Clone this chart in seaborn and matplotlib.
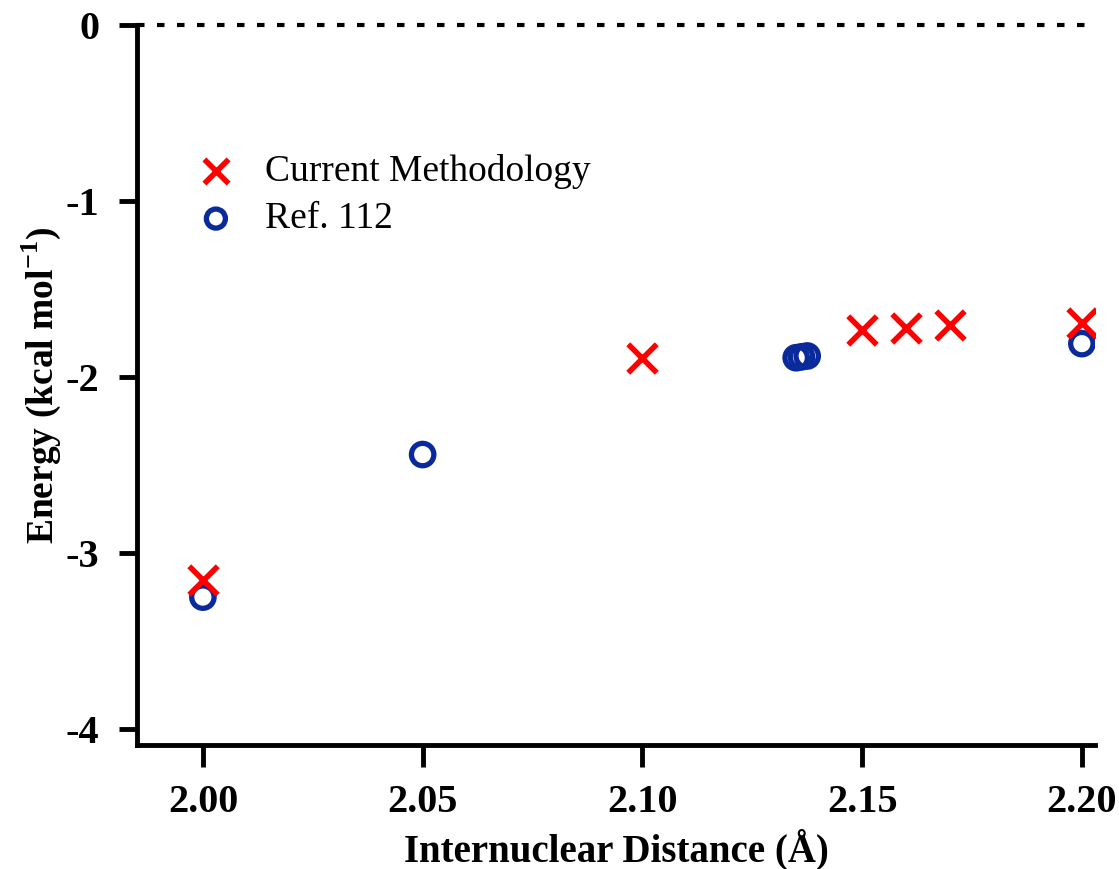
import matplotlib
matplotlib.use("Agg")
import matplotlib.pyplot as plt
import seaborn as sns
import pandas as pd

current_x = [2.00, 2.10, 2.15, 2.16, 2.17, 2.20]
current_y = [-3.15, -1.89, -1.73, -1.72, -1.705, -1.69]
ref_x = [2.00, 2.05, 2.135, 2.1362, 2.1375, 2.20]
ref_y = [-3.25, -2.44, -1.89, -1.885, -1.88, -1.81]
x_ticks = [2.00, 2.05, 2.10, 2.15, 2.20]
y_ticks = [0, -1, -2, -3, -4]

sns.set_style("ticks")
plt.rcParams['font.family'] = ['Liberation Serif', 'DejaVu Serif']
plt.rcParams['mathtext.fontset'] = 'custom'
plt.rcParams['mathtext.rm'] = 'Liberation Serif'
plt.rcParams['mathtext.bf'] = 'Liberation Serif:bold'
plt.rcParams['text.color'] = 'black'
plt.rcParams['axes.labelcolor'] = 'black'
plt.rcParams['xtick.color'] = 'black'
plt.rcParams['ytick.color'] = 'black'
plt.rcParams['axes.edgecolor'] = 'black'

fig = plt.figure(figsize=(11.19, 8.69), dpi=100)
ax = fig.add_axes([0.1224, 0.1427, 0.8562, 0.8285])

df_c = pd.DataFrame({"x": current_x, "y": current_y})
df_r = pd.DataFrame({"x": ref_x, "y": ref_y})

ax.axhline(0, color="black", linestyle=(0, (1.8, 3.0)), linewidth=3, zorder=1, clip_on=False)

sns.scatterplot(data=df_r, x="x", y="y", ax=ax, marker="o", s=260,
                facecolors="none", edgecolor="#0a2a9c", linewidth=3.8,
                label="Ref. 112", zorder=3)
sns.scatterplot(data=df_c, x="x", y="y", ax=ax, marker="x", s=420,
                color="#ff0000", linewidth=4, label="Current Methodology", zorder=4)

ax.set_xlim(1.985, 2.203)
ax.set_ylim(-4.09, 0.0)
ax.set_xticks(x_ticks)
ax.set_xticklabels([f"{v:.2f}" for v in x_ticks])
ax.set_yticks(y_ticks)
ax.set_yticklabels([str(v) for v in y_ticks])

for s in ["top", "right"]:
    ax.spines[s].set_visible(False)
for s in ["left", "bottom"]:
    ax.spines[s].set_linewidth(3.5)

ax.tick_params(axis="both", direction="out", width=3.5, labelsize=29)
ax.tick_params(axis="x", length=16, pad=12)
ax.tick_params(axis="y", length=13, pad=14)
for lab in ax.get_xticklabels() + ax.get_yticklabels():
    lab.set_fontweight("bold")

ax.set_xlabel("Internuclear Distance (Å)", fontsize=28, fontweight="bold", labelpad=6)
ax.set_ylabel(r"Energy (kcal mol$^{\mathbf{-1}}$)", fontsize=27, fontweight="bold", labelpad=2)

handles, labels = ax.get_legend_handles_labels()
order = [labels.index("Current Methodology"), labels.index("Ref. 112")]
leg = ax.legend([handles[i] for i in order], [labels[i] for i in order],
                loc="upper left", bbox_to_anchor=(0.008, 0.868), frameon=False,
                fontsize=27, handletextpad=0.3, labelspacing=0.35,
                markerscale=0.85)

fig.savefig("out.png", dpi=100)
